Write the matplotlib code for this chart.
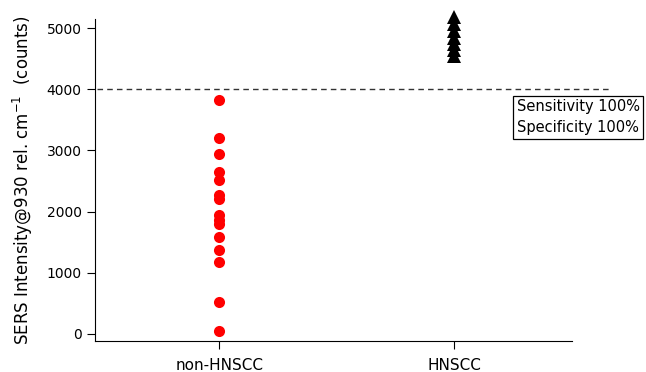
import matplotlib.pyplot as plt

groups = ['non-HNSCC', 'HNSCC']
non_hnscc = [3830, 3200, 2950, 2640, 2510, 2280, 2200, 1950, 1870, 1790, 1590, 1370, 1170, 530, 50]
hnscc = [5180, 5060, 4950, 4840, 4740, 4640, 4540]
cutoff = 4000

plt.rcParams['font.family'] = ['DejaVu Sans']

fig = plt.figure(figsize=(6.46, 3.72), dpi=100)
ax = fig.add_axes([0.1466, 0.0833, 0.7384, 0.8657])

ax.plot([0] * len(non_hnscc), non_hnscc, 'o', color='red', markersize=8,
        markeredgewidth=0, clip_on=False)
ax.plot([1] * len(hnscc), hnscc, '^', color='black', markersize=10,
        markeredgewidth=0, clip_on=False)

ax.plot([-0.52, 1.67], [cutoff, cutoff], '--', color='#333333', linewidth=1,
        dashes=(4, 3), clip_on=False)

ax.set_xlim(-0.53, 1.5)
ax.set_ylim(-115, 5150)
ax.set_xticks([0, 1])
ax.set_xticklabels(groups, fontsize=11)
ax.set_yticks([0, 1000, 2000, 3000, 4000, 5000])
ax.tick_params(axis='y', labelsize=10, length=6, width=0.8, direction='out')
ax.tick_params(axis='x', length=6, width=0.8, direction='out', pad=6)
ax.spines['top'].set_visible(False)
ax.spines['right'].set_visible(False)
ax.set_ylabel('SERS Intensity@930 rel. cm$^{-1}$  (counts)', fontsize=12, labelpad=8)

fig.text(0.800, 0.685, 'Sensitivity 100%\nSpecificity 100%', fontsize=10.5,
         linespacing=1.5, va='center', ha='left',
         bbox=dict(boxstyle='square,pad=0.25', facecolor='white', edgecolor='black', linewidth=0.9))

fig.savefig('out.png', dpi=100)
